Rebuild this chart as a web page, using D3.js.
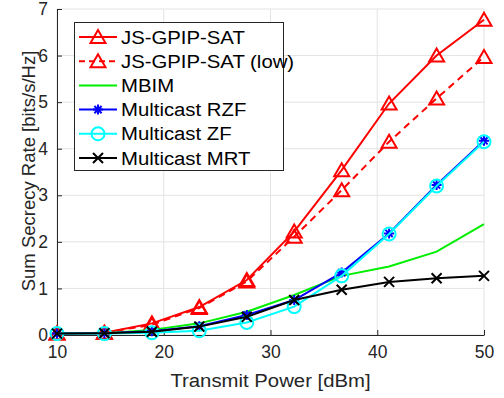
<!DOCTYPE html>
<html>
<head>
<meta charset="utf-8">
<script src="https://cdn.jsdelivr.net/npm/d3@7"></script>
<style>
  body { margin: 0; background: #fff; }
  svg { display: block; font-family: "Liberation Sans", Arial, sans-serif; }
</style>
</head>
<body>
<svg id="chart" width="504" height="398"></svg>
<script>
// transmit power points (dBm)
const power = [10, 14.44, 18.89, 23.33, 27.78, 32.22, 36.67, 41.11, 45.56, 50];

// sum secrecy rate per scheme
const jsGpip    = [0.03, 0.05, 0.25, 0.60, 1.18, 2.22, 3.54, 4.97, 6.00, 6.77];
const jsGpipLow = [0.03, 0.05, 0.22, 0.58, 1.15, 2.11, 3.11, 4.15, 5.08, 5.97];
const mbim      = [0.03, 0.04, 0.11, 0.25, 0.50, 0.86, 1.27, 1.47, 1.79, 2.38];
const rzf       = [0.03, 0.04, 0.08, 0.19, 0.43, 0.75, 1.34, 2.18, 3.22, 4.17];
const zf        = [0.03, 0.03, 0.05, 0.09, 0.27, 0.61, 1.27, 2.17, 3.20, 4.15];
const mrt       = [0.03, 0.04, 0.07, 0.18, 0.39, 0.75, 0.97, 1.14, 1.22, 1.27];

const xTicks = [10, 20, 30, 40, 50];
const yTicks = [0, 1, 2, 3, 4, 5, 6, 7];

const series = [
  { name: "JS-GPIP-SAT", values: jsGpip, color: "#ff0000", dash: null, marker: "tri" },
  { name: "JS-GPIP-SAT (low)", values: jsGpipLow, color: "#ff0000", dash: "7,5", marker: "tri" },
  { name: "MBIM", values: mbim, color: "#00ee00", dash: null, marker: null },
  { name: "Multicast RZF", values: rzf, color: "#0000ff", dash: null, marker: "star" },
  { name: "Multicast ZF", values: zf, color: "#00ffff", dash: null, marker: "circle" },
  { name: "Multicast MRT", values: mrt, color: "#000000", dash: null, marker: "x" }
];

const margin = { left: 57, right: 20, top: 9, bottom: 63 };
const width = 504, height = 398;
const svg = d3.select("#chart");

const x = d3.scaleLinear().domain([10, 50]).range([margin.left, width - margin.right]);
const y = d3.scaleLinear().domain([0, 7]).range([height - margin.bottom, margin.top]);

const axisCol = "#262626";
const stretch = 1.13; // the picture's text is a little wider than the font

// grid
svg.append("g").selectAll("line").data(xTicks).join("line")
  .attr("x1", d => x(d)).attr("x2", d => x(d))
  .attr("y1", y(0)).attr("y2", y(7))
  .attr("stroke", "#e3e3e3").attr("stroke-width", 1);
svg.append("g").selectAll("line").data(yTicks).join("line")
  .attr("x1", x(10)).attr("x2", x(50))
  .attr("y1", d => y(d)).attr("y2", d => y(d))
  .attr("stroke", "#e3e3e3").attr("stroke-width", 1);

// axes
const xAxis = d3.axisBottom(x).tickValues(xTicks).tickFormat(d3.format("d"))
  .tickSizeInner(-5).tickSizeOuter(0).tickPadding(11);
const yAxis = d3.axisLeft(y).tickValues(yTicks).tickFormat(d3.format("d"))
  .tickSizeInner(-5).tickSizeOuter(0).tickPadding(9);

const gx = svg.append("g").attr("transform", `translate(0,${y(0)})`).call(xAxis);
const gy = svg.append("g").attr("transform", `translate(${x(10)},0)`).call(yAxis);
[gx, gy].forEach(g => {
  g.select(".domain").attr("stroke", axisCol);
  g.selectAll(".tick line").attr("stroke", axisCol);
  g.selectAll(".tick text").attr("fill", axisCol)
    .style("font-size", "17.5px").style("font-family", "Liberation Sans, Arial, sans-serif");
});

// axis titles
svg.append("text")
  .attr("transform", `translate(${(x(10) + x(50)) / 2},387) scale(${stretch},1)`)
  .attr("text-anchor", "middle").attr("fill", axisCol)
  .style("font-size", "18px")
  .text("Transmit Power [dBm]");
svg.append("text")
  .attr("transform", "translate(35,171) rotate(-90)")
  .attr("text-anchor", "middle").attr("fill", axisCol)
  .style("font-size", "18.5px")
  .text("Sum Secrecy Rate [bits/s/Hz]");

// marker drawing
function drawMarker(g, type, color) {
  if (type === "tri") {
    g.append("path").attr("d", "M0,-7L7.5,6L-7.5,6Z")
      .attr("fill", "none").attr("stroke", color).attr("stroke-width", 2);
  } else if (type === "circle") {
    g.append("circle").attr("r", 6.5)
      .attr("fill", "none").attr("stroke", color).attr("stroke-width", 2);
  } else if (type === "star") {
    g.append("path").attr("d", "M-5,0L5,0M0,-5L0,5M-3.6,-3.6L3.6,3.6M-3.6,3.6L3.6,-3.6")
      .attr("stroke", color).attr("stroke-width", 2);
  } else if (type === "x") {
    g.append("path").attr("d", "M-5,-5L5,5M-5,5L5,-5")
      .attr("stroke", color).attr("stroke-width", 2);
  }
}

const line = d3.line().x((d, i) => x(power[i])).y(d => y(d));

series.forEach(s => {
  const g = svg.append("g");
  g.append("path").datum(s.values)
    .attr("d", line)
    .attr("fill", "none").attr("stroke", s.color).attr("stroke-width", 2)
    .attr("stroke-dasharray", s.dash);
  if (s.marker) {
    s.values.forEach((v, i) => {
      const m = g.append("g").attr("transform", `translate(${x(power[i])},${y(v)})`);
      drawMarker(m, s.marker, s.color);
    });
  }
});

// legend
const leg = svg.append("g");
leg.append("rect")
  .attr("x", 74.5).attr("y", 22.5).attr("width", 209).attr("height", 148)
  .attr("fill", "#fff").attr("stroke", axisCol).attr("stroke-width", 1);
series.forEach((s, i) => {
  const ly = 37 + i * 24.2;
  const row = leg.append("g");
  row.append("line").attr("x1", 79).attr("x2", 117).attr("y1", ly).attr("y2", ly)
    .attr("stroke", s.color).attr("stroke-width", 2)
    .attr("stroke-dasharray", s.dash ? "6,4" : null);
  if (s.marker) {
    const m = row.append("g").attr("transform", `translate(98,${ly})`);
    drawMarker(m, s.marker, s.color);
  }
  row.append("text")
    .attr("transform", `translate(121,${ly + 6.5}) scale(${stretch},1)`)
    .attr("fill", "#000").style("font-size", "18px")
    .text(s.name);
});
</script>
</body>
</html>
